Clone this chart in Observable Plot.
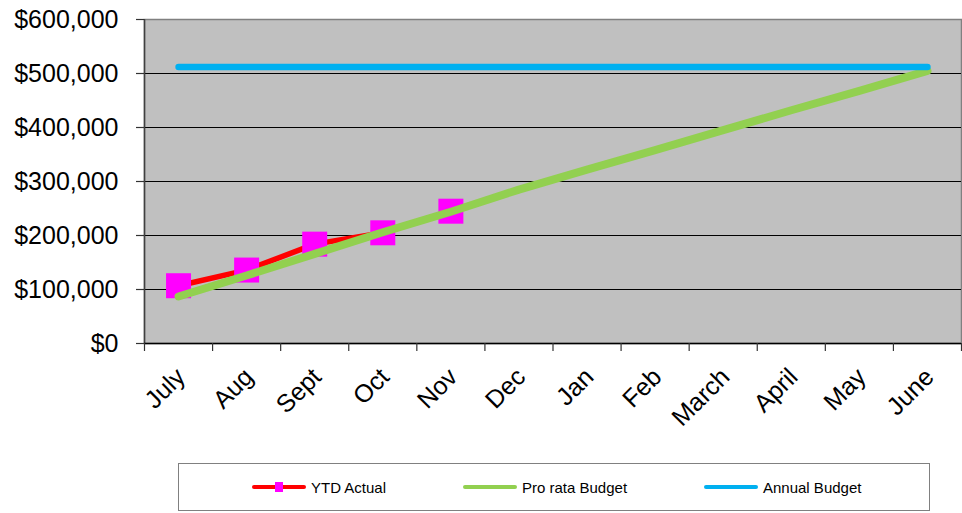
<!DOCTYPE html>
<html><head><meta charset="utf-8">
<script src="https://cdn.jsdelivr.net/npm/d3@7"></script>
<script src="https://cdn.jsdelivr.net/npm/@observablehq/plot@0.6"></script>
<style>
body{margin:0;background:#fff;font-family:"Liberation Sans",Arial,sans-serif;}
#wrap{position:relative;width:962px;height:513px;overflow:hidden;}
#legend{position:absolute;left:178px;top:463px;width:752px;height:48px;border:1px solid #808080;box-sizing:border-box;font-size:15px;color:#000;}
.item{position:absolute;top:0;height:100%;display:flex;align-items:center;}
.item svg{margin-right:5px;}
</style></head><body><div id="wrap"></div>
<script>
const months = ["July","Aug","Sept","Oct","Nov","Dec","Jan","Feb","March","April","May","June"];
const ytdActual = [107000,136000,184000,205000,245000];
const proRataBudget = [87000,126000,166000,206000,244000,285000,322000,358000,395000,432000,468000,505000];
const annualBudget = [512000,512000,512000,512000,512000,512000,512000,512000,512000,512000,512000,512000];
const yTicks = [0,100000,200000,300000,400000,500000,600000];
const seriesNames = ["YTD Actual","Pro rata Budget","Annual Budget"];
const colors = {actual:"#FF0000", marker:"#FF00FF", prorata:"#92D050", annual:"#00B0F0"};

const actualRows = ytdActual.map((v,i)=>({x:i+0.5, v}));
const proRows = proRataBudget.map((v,i)=>({x:i+0.5, v}));
const annRows = annualBudget.map((v,i)=>({x:i+0.5, v}));
const monthRows = months.map((m,i)=>({x:i+0.5, m}));
const bounds = d3.range(months.length+1);
const fmt = d => "$" + d3.format(",")(d);

const chart = Plot.plot({
  width: 962, height: 455,
  marginLeft: 144, marginRight: 1, marginTop: 19, marginBottom: 112,
  style: {fontFamily:'"Liberation Sans", Arial, sans-serif', fontSize:"25px", background:"transparent", color:"#000", overflow:"visible"},
  x: {type:"linear", domain:[0, months.length], label:null},
  y: {domain:[0,600000], label:null},
  marks: [
    Plot.frame({fill:"#C0C0C0", stroke:"#808080", strokeWidth:1.5}),
    Plot.gridY(yTicks.slice(1,-1), {stroke:"#000", strokeOpacity:1, strokeWidth:1}),
    Plot.ruleX([0], {stroke:"#404040", strokeWidth:1.5}),
    Plot.ruleY([0], {stroke:"#000", strokeWidth:1.5}),
    Plot.axisY({ticks: yTicks, tickFormat: fmt, tickSize: 8, tickPadding: 18, fontSize: 25, stroke:"#333", strokeWidth:1.2, label:null}),
    Plot.axisX({ticks: bounds, tickFormat: () => "", tickSize: 8, stroke:"#333", strokeWidth:1.2, label:null}),
    Plot.text(monthRows, {x:"x", text:"m", frameAnchor:"bottom", rotate:-45, textAnchor:"end", lineAnchor:"bottom", dx:8, dy:35, fontSize:25}),
    Plot.line(actualRows, {x:"x", y:"v", stroke:colors.actual, strokeWidth:5.5, strokeLinejoin:"round"}),
    Plot.dot(actualRows, {x:"x", y:"v", symbol:"square", r:14.1, fill:colors.marker, stroke:"none"}),
    Plot.line(proRows, {x:"x", y:"v", stroke:colors.prorata, strokeWidth:8, strokeLinecap:"round", strokeLinejoin:"round"}),
    Plot.line(annRows, {x:"x", y:"v", stroke:colors.annual, strokeWidth:6.5, strokeLinecap:"round"})
  ]
});
const wrap = document.getElementById("wrap");
chart.style.position = "absolute"; chart.style.left = "0"; chart.style.top = "0";
wrap.appendChild(chart);

const legend = document.createElement("div");
legend.id = "legend";
const items = [
  {name: seriesNames[0], left: 73, stroke: colors.actual, marker: true},
  {name: seriesNames[1], left: 284, stroke: colors.prorata},
  {name: seriesNames[2], left: 525, stroke: colors.annual}
];
for (const it of items) {
  const d = document.createElement("div");
  d.className = "item";
  d.style.left = it.left + "px";
  d.innerHTML = `<svg width="54" height="14"><line x1="2" x2="52" y1="7" y2="7" stroke="${it.stroke}" stroke-width="4" stroke-linecap="round"/>` +
    (it.marker ? `<rect x="23" y="2" width="8" height="10" fill="${colors.marker}"/>` : "") +
    `</svg><span>${it.name}</span>`;
  legend.appendChild(d);
}
wrap.appendChild(legend);
</script>
</body></html>
